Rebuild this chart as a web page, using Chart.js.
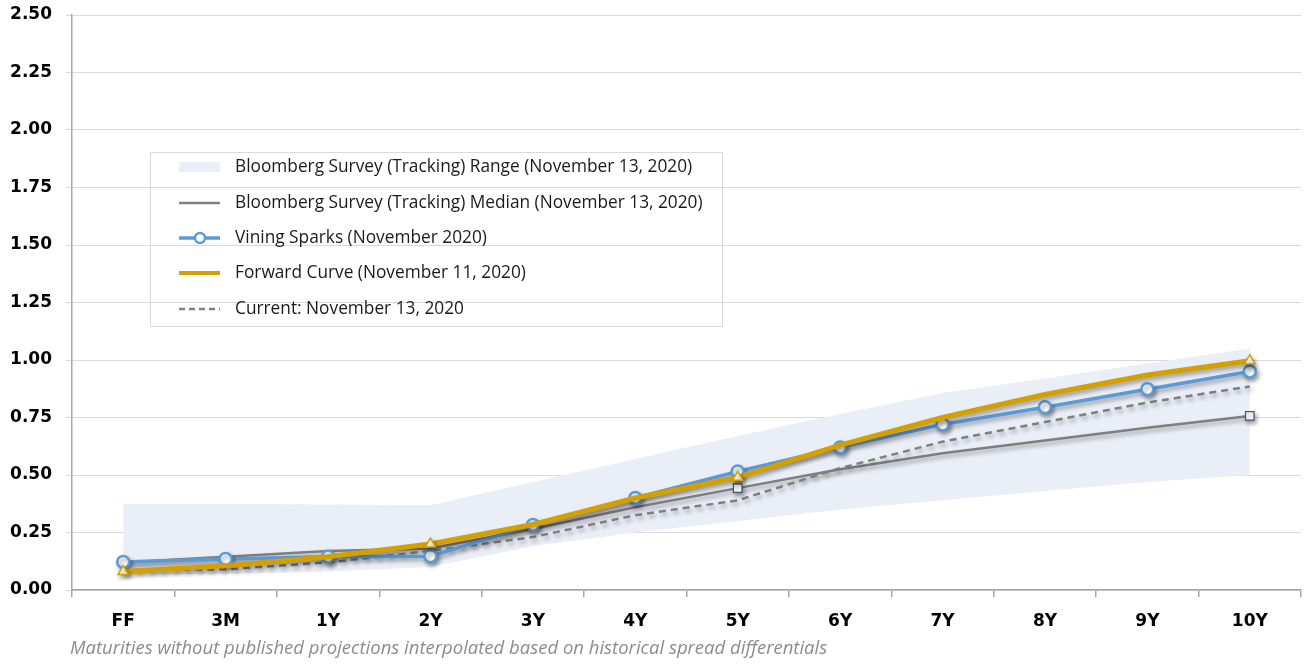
<!DOCTYPE html>
<html>
<head>
<meta charset="utf-8">
<script src="https://cdn.jsdelivr.net/npm/chart.js"></script>
<style>
  body { margin: 0; background: #fff; }
  canvas { display: block; }
</style>
</head>
<body>
<canvas id="chart" width="1304" height="664"></canvas>
<script>
const maturities = ['FF', '3M', '1Y', '2Y', '3Y', '4Y', '5Y', '6Y', '7Y', '8Y', '9Y', '10Y'];
const rangeHigh = [0.375, 0.375, 0.372, 0.368, 0.47, 0.57, 0.67, 0.765, 0.857, 0.92, 0.985, 1.05];
const rangeLow = [0.07, 0.07, 0.08, 0.10, 0.19, 0.25, 0.30, 0.35, 0.39, 0.43, 0.47, 0.50];
const medianValues = [0.12, 0.145, 0.17, 0.18, 0.265, 0.36, 0.443, 0.525, 0.595, 0.65, 0.705, 0.757];
const viningValues = [0.122, 0.135, 0.145, 0.147, 0.283, 0.40, 0.515, 0.62, 0.72, 0.795, 0.873, 0.95];
const forwardValues = [0.08, 0.105, 0.145, 0.20, 0.285, 0.40, 0.49, 0.63, 0.75, 0.85, 0.935, 0.997];
const currentValues = [0.087, 0.09, 0.12, 0.17, 0.23, 0.325, 0.39, 0.53, 0.645, 0.73, 0.815, 0.885];
const legendLabels = [
  'Bloomberg Survey (Tracking) Range (November 13, 2020)',
  'Bloomberg Survey (Tracking) Median (November 13, 2020)',
  'Vining Sparks (November 2020)',
  'Forward Curve (November 11, 2020)',
  'Current: November 13, 2020'
];
const footnote = 'Maturities without published projections interpolated based on historical spread differentials';

const BAND = '#eaeef7';
const GOLD = '#d4a000';
const BLUE = '#5b9bd5';
const GRAY = '#7f7f7f';
const TEXT_FONT = '"Open Sans", sans-serif';
const TICK_FONT = '"DejaVu Sans", sans-serif';

// markers only on some points (same as the original)
const triangleAt = [0, 3, 6, 11];
const squareAt = [6, 11];

// soft drop shadow under the lines, like the Excel original
const shadowPlugin = {
  id: 'shadow',
  beforeDatasetDraw(chart, args) {
    if (chart.data.datasets[args.index].noShadow) return;
    const ctx = chart.ctx;
    ctx.save();
    ctx.shadowColor = 'rgba(0,0,0,0.35)';
    ctx.shadowBlur = 4;
    ctx.shadowOffsetX = 2;
    ctx.shadowOffsetY = 3;
  },
  afterDatasetDraw(chart, args) {
    if (chart.data.datasets[args.index].noShadow) return;
    chart.ctx.restore();
  }
};

const legendPlugin = {
  id: 'boxLegend',
  afterDraw(chart) {
    const ctx = chart.ctx;
    ctx.save();
    ctx.strokeStyle = '#d9d9d9';
    ctx.lineWidth = 1;
    ctx.strokeRect(150.5, 152.5, 572, 174);

    const rows = [167, 203, 238, 273, 309];
    const x0 = 179, x1 = 220;
    // range swatch
    ctx.fillStyle = BAND;
    ctx.fillRect(x0, rows[0] - 5, x1 - x0, 10);
    // median
    ctx.strokeStyle = GRAY;
    ctx.lineWidth = 2.5;
    ctx.beginPath(); ctx.moveTo(x0, rows[1]); ctx.lineTo(x1, rows[1]); ctx.stroke();
    // vining sparks
    ctx.strokeStyle = BLUE;
    ctx.lineWidth = 3.5;
    ctx.beginPath(); ctx.moveTo(x0, rows[2]); ctx.lineTo(x1, rows[2]); ctx.stroke();
    ctx.fillStyle = '#fff';
    ctx.lineWidth = 2.5;
    ctx.beginPath(); ctx.arc(200, rows[2], 5, 0, Math.PI * 2); ctx.fill(); ctx.stroke();
    // forward curve
    ctx.strokeStyle = GOLD;
    ctx.lineWidth = 4;
    ctx.beginPath(); ctx.moveTo(x0, rows[3]); ctx.lineTo(x1, rows[3]); ctx.stroke();
    // current
    ctx.strokeStyle = GRAY;
    ctx.lineWidth = 2.5;
    ctx.setLineDash([6, 4]);
    ctx.beginPath(); ctx.moveTo(x0, rows[4]); ctx.lineTo(x1, rows[4]); ctx.stroke();
    ctx.setLineDash([]);

    ctx.fillStyle = '#1a1a1a';
    ctx.font = '17.3px ' + TEXT_FONT;
    ctx.textBaseline = 'middle';
    ctx.textAlign = 'left';
    legendLabels.forEach((t, i) => ctx.fillText(t, 235, rows[i]));

    // footnote
    ctx.fillStyle = '#8c8c8c';
    ctx.font = 'italic 18.5px ' + TEXT_FONT;
    ctx.fillText(footnote, 70, 649);
    ctx.restore();
  }
};

new Chart(document.getElementById('chart'), {
  type: 'line',
  data: {
    labels: maturities,
    datasets: [
      {
        label: legendLabels[3],
        data: forwardValues,
        borderColor: GOLD,
        borderWidth: 5,
        pointStyle: 'triangle',
        pointRadius: maturities.map((m, i) => triangleAt.includes(i) ? 6 : 0),
        pointBackgroundColor: '#fff',
        pointBorderColor: GOLD,
        pointBorderWidth: 1.5,
        tension: 0
      },
      {
        label: legendLabels[2],
        data: viningValues,
        borderColor: BLUE,
        borderWidth: 3.5,
        pointStyle: 'circle',
        pointRadius: 6,
        pointBackgroundColor: '#fff',
        pointBorderColor: BLUE,
        pointBorderWidth: 2.5,
        tension: 0
      },
      {
        label: legendLabels[4],
        data: currentValues,
        borderColor: GRAY,
        borderWidth: 2.5,
        borderDash: [7, 5],
        pointRadius: 0,
        tension: 0
      },
      {
        label: legendLabels[1],
        data: medianValues,
        borderColor: GRAY,
        borderWidth: 2.5,
        pointStyle: 'rect',
        pointRadius: maturities.map((m, i) => squareAt.includes(i) ? 6 : 0),
        pointBackgroundColor: '#fff',
        pointBorderColor: '#44546a',
        pointBorderWidth: 1.2,
        tension: 0
      },
      {
        label: 'range high',
        data: rangeHigh,
        borderWidth: 0,
        borderColor: 'rgba(0,0,0,0)',
        backgroundColor: BAND,
        pointRadius: 0,
        fill: '+1',
        noShadow: true
      },
      {
        label: legendLabels[0],
        data: rangeLow,
        borderWidth: 0,
        borderColor: 'rgba(0,0,0,0)',
        pointRadius: 0,
        fill: false,
        noShadow: true
      }
    ]
  },
  options: {
    responsive: false,
    animation: false,
    layout: { autoPadding: false, padding: { top: 15, right: 3, left: 0, bottom: 0 } },
    plugins: {
      legend: { display: false },
      tooltip: { enabled: false }
    },
    scales: {
      x: {
        offset: true,
        grid: { drawOnChartArea: false, offset: true, tickLength: 7, color: '#a6a6a6', lineWidth: 1.5 },
        border: { color: '#a6a6a6', width: 1.5 },
        ticks: { color: '#000', padding: 14, font: { family: TICK_FONT, size: 17, weight: 'bold' } },
        afterFit(scale) {
          scale.height = 74;
          scale.paddingLeft = 0;
          scale.paddingRight = 0;
        }
      },
      y: {
        min: 0,
        max: 2.5,
        grid: { color: '#d9d9d9', lineWidth: 1, tickLength: 6 },
        border: { color: '#a6a6a6', width: 1.5 },
        ticks: {
          stepSize: 0.25,
          color: '#000',
          padding: 14,
          font: { family: TICK_FONT, size: 17, weight: 'bold' },
          callback: v => v.toFixed(2)
        },
        afterFit(scale) {
          scale.width = 72;
          scale.paddingTop = 0;
          scale.paddingBottom = 0;
        }
      }
    }
  },
  plugins: [shadowPlugin, legendPlugin]
});
</script>
</body>
</html>
